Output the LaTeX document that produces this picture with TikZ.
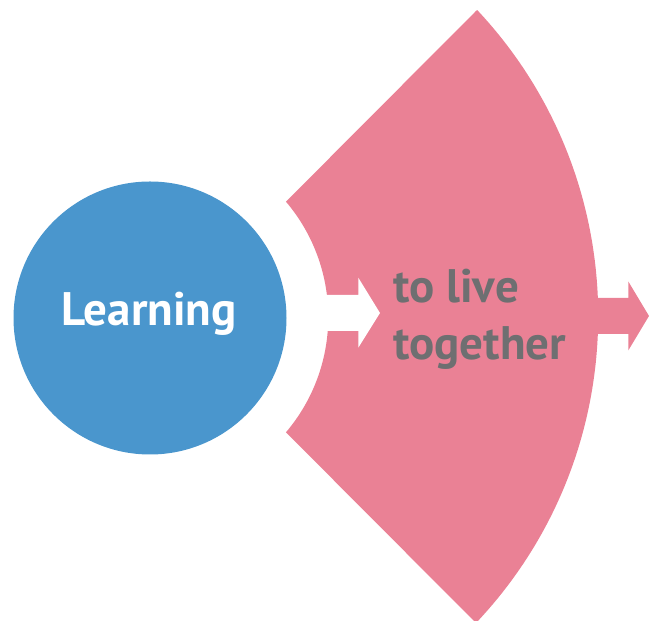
\documentclass[tikz,border=0pt]{standalone}
\usepackage{fontspec}
\setmainfont{PT Sans}
\usetikzlibrary{calc}
\definecolor{lblue}{RGB}{74,150,205}
\definecolor{lpink}{RGB}{234,129,149}
\definecolor{lgray}{RGB}{110,111,113}
\tikzset{
  bigtext/.style={font=\bfseries\fontsize{47}{57}\selectfont, inner sep=0pt},
  arrowshape/.style={draw=none}
}
\begin{document}
\begin{tikzpicture}[x=1pt,y=1pt]
\useasboundingbox (0,0) rectangle (649,621);
% centres
\coordinate (O) at (150,304);
\coordinate (T) at (476,610);
\coordinate (Bt) at (476,-2);
\coordinate (A) at ($(O)+(40.3:178.3)$);
% pink sector
\fill[lpink] (T) -- (A) arc[start angle=40.3, end angle=-40.3, radius=178.3]
  -- (Bt) arc[start angle=-43.4, end angle=43.18, radius=447] -- cycle;
% pink arrow on the right
\fill[lpink] (585,287) -- (628.3,287) -- (628.3,270.5) -- (649,305) -- (628.3,339.5) -- (628.3,323) -- (585,323) -- cycle;
% white arrow
\fill[white] (318,290) -- (358.3,290) -- (358.3,273.3) -- (380,308) -- (358.3,343.3) -- (358.3,326) -- (318,326) -- cycle;
% circle
\node[circle, fill=lblue, minimum size=273pt, inner sep=0pt] (learn) at (150,303) {};
\node[bigtext, text=white, anchor=base] (ltext) at (149,295) {Learning};
\node[bigtext, text=lgray, anchor=base west] (t1) at (393,318) {to live};
\node[bigtext, text=lgray, anchor=base west] (t2) at (393,261) {together};
\end{tikzpicture}
\end{document}
